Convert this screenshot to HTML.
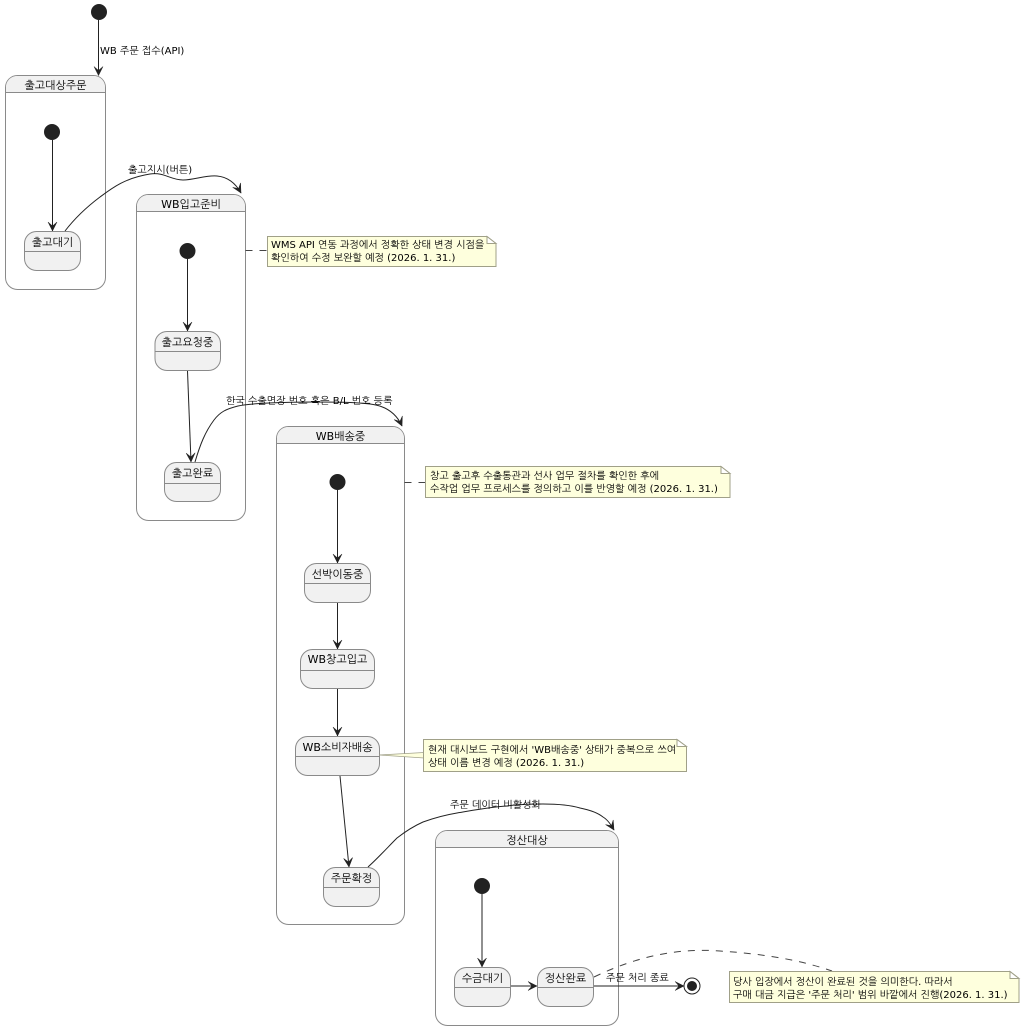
<!DOCTYPE html>
<html><head><meta charset="utf-8"><style>
html,body{margin:0;padding:0;background:#fff;width:1024px;height:1029px;overflow:hidden}
svg{display:block}
text{font-family:"DejaVu Sans","NanumGothic","Noto Sans CJK KR",sans-serif;font-size:11px;fill:#000}
.e{font-size:10px}
.t{text-anchor:middle}
.b{fill:#fff;stroke:#8a8a8a;stroke-width:1}
.h{fill:#f1f1f1;stroke:none}
.l{stroke:#8a8a8a;stroke-width:1;fill:none}
.s{fill:#f1f1f1;stroke:#8a8a8a;stroke-width:1}
.c{stroke:#222;stroke-width:1;fill:none}
.n{fill:#feffdd;stroke:#a0a088;stroke-width:1}
.f{fill:#fff;stroke:#a0a088;stroke-width:1}
.d{stroke:#444;stroke-width:1;fill:none;stroke-dasharray:7 7}
</style></head><body>
<svg width="1024" height="1029" viewBox="0 0 1024 1029" xmlns="http://www.w3.org/2000/svg">
<defs>
<marker id="ar" markerUnits="userSpaceOnUse" markerWidth="14" markerHeight="14" refX="10" refY="6" orient="auto"><path d="M1,1.5 L10,6 L1,10.5 L5,6 Z" fill="#222" stroke="#222" stroke-width="0.5"/></marker>
</defs>

<!-- composite states -->
<rect class="b" x="5.5" y="75.5" width="100" height="214" rx="12"/>
<path class="h" d="M6,92 V87 a11,11 0 0 1 11,-11 H94 a11,11 0 0 1 11,11 V92 Z"/>
<path class="l" d="M5.5,92.5 H105.5"/>
<text class="t" x="55.5" y="89">출고대상주문</text>

<rect class="b" x="136.5" y="194.5" width="109" height="326" rx="12"/>
<path class="h" d="M137,211 V206 a11,11 0 0 1 11,-11 H234 a11,11 0 0 1 11,11 V211 Z"/>
<path class="l" d="M136.5,211.5 H245.5"/>
<text class="t" x="191" y="208">WB입고준비</text>

<rect class="b" x="276.5" y="426.5" width="128" height="498" rx="12"/>
<path class="h" d="M277,443 V438 a11,11 0 0 1 11,-11 H393 a11,11 0 0 1 11,11 V443 Z"/>
<path class="l" d="M276.5,443.5 H404.5"/>
<text class="t" x="340.5" y="440">WB배송중</text>

<rect class="b" x="435.5" y="830.5" width="183" height="195" rx="12"/>
<path class="h" d="M436,847 V842 a11,11 0 0 1 11,-11 H607 a11,11 0 0 1 11,11 V847 Z"/>
<path class="l" d="M435.5,847.5 H618.5"/>
<text class="t" x="527" y="844">정산대상</text>

<!-- simple states -->
<g id="states">
<rect class="s" x="24.5" y="231.5" width="56" height="39" rx="12"/><path class="l" d="M24.5,251.5 H80.5"/>
<text class="t" x="52.5" y="246">출고대기</text>
<rect class="s" x="155" y="331.5" width="65.5" height="39" rx="12"/><path class="l" d="M155,351.5 H220.5"/>
<text class="t" x="187.5" y="346">출고요청중</text>
<rect class="s" x="164.5" y="462.5" width="56" height="39" rx="12"/><path class="l" d="M164.5,483.5 H220.5"/>
<text class="t" x="192.5" y="477">출고완료</text>
<rect class="s" x="304.5" y="563.5" width="66" height="39" rx="12"/><path class="l" d="M304.5,583.5 H370.5"/>
<text class="t" x="337.5" y="578">선박이동중</text>
<rect class="s" x="300.5" y="649.5" width="74" height="39" rx="12"/><path class="l" d="M300.5,670.5 H374.5"/>
<text class="t" x="337.5" y="663">WB창고입고</text>
<rect class="s" x="295.5" y="736.5" width="84" height="39" rx="12"/><path class="l" d="M295.5,756.5 H379.5"/>
<text class="t" x="337.5" y="751">WB소비자배송</text>
<rect class="s" x="323.5" y="867.5" width="56" height="39" rx="12"/><path class="l" d="M323.5,887.5 H379.5"/>
<text class="t" x="351.5" y="882">주문확정</text>
<rect class="s" x="454.5" y="967.5" width="56" height="39" rx="12"/><path class="l" d="M454.5,987.5 H510.5"/>
<text class="t" x="482.5" y="982">수금대기</text>
<rect class="s" x="537.5" y="967.5" width="56" height="39" rx="12"/><path class="l" d="M537.5,987.5 H593.5"/>
<text class="t" x="565.5" y="982">정산완료</text>
</g>

<!-- start/end -->
<circle cx="99" cy="12" r="8" fill="#222"/>
<circle cx="52" cy="132" r="8" fill="#222"/>
<circle cx="187.5" cy="251" r="8" fill="#222"/>
<circle cx="337.5" cy="482" r="8" fill="#222"/>
<circle cx="482" cy="886" r="8" fill="#222"/>
<circle cx="692" cy="986" r="8" fill="#fff" stroke="#222" stroke-width="1"/>
<circle cx="692" cy="986" r="5" fill="#222"/>

<!-- connectors -->
<path class="c" marker-end="url(#ar)" d="M98.5,20 V75.5"/>
<path class="c" marker-end="url(#ar)" d="M52.5,140 V231"/>
<path class="c" marker-end="url(#ar)" d="M65,231 C75,218 88,206 100,197 C112,188 125,178 150,174 C165,172 170,180 183,180 C195,180 205,175 217,176 C228,177 236,184 241,193"/>
<path class="c" marker-end="url(#ar)" d="M187.5,259 V331"/>
<path class="c" marker-end="url(#ar)" d="M187.5,371 L191,462"/>
<path class="c" marker-end="url(#ar)" d="M195,462 C200,445 205,432 214,420 C220,412 226,409 238,406 C250,403 290,402 313,402 C335,402 352,402 370,404 C388,406 397,415 402,426"/>
<path class="c" marker-end="url(#ar)" d="M337.5,490 V563"/>
<path class="c" marker-end="url(#ar)" d="M337.5,603 V649"/>
<path class="c" marker-end="url(#ar)" d="M337.5,689 V736"/>
<path class="c" marker-end="url(#ar)" d="M340,776 L349,867"/>
<path class="c" marker-end="url(#ar)" d="M368,867 C378,858 388,847 397,838 C406,831 414,826 423,822 C434,818 445,815 457,813 C475,810 490,807 507,806 C520,804 532,804 543,804 C558,804 570,805 580,808 C590,810 598,813 603,817 C608,820 611,825 614,830"/>
<path class="c" marker-end="url(#ar)" d="M482,894 V967"/>
<path class="c" marker-end="url(#ar)" d="M511,986 H537"/>
<path class="c" marker-end="url(#ar)" d="M594,986 H684"/>

<!-- edge labels -->
<text class="e" x="100" y="54">WB 주문 접수(API)</text>
<text class="e" x="128" y="173">출고지시(버튼)</text>
<text class="e" x="226" y="404">한국 수출면장 번호 혹은 B/L 번호 등록</text>
<text class="e" x="450" y="808">주문 데이터 비활성화</text>
<text class="e" x="606" y="981">주문 처리 종료</text>

<!-- note links -->
<path class="d" d="M245.5,250.5 H267"/>
<path class="d" d="M404.5,482.5 H425"/>
<path class="d" d="M594,977 C640,955 680,948 720,951 C765,954 800,960 832,971"/>
<path d="M379,755 L424,752.5 V758 Z" fill="#feffdd" stroke="#a0a088" stroke-width="0.8"/>

<!-- notes -->
<path class="n" d="M267.5,236.5 H487 L496,243.5 V266.5 H267.5 Z"/><path class="f" d="M487,236.5 V243.5 H496 Z"/>
<text class="e" x="271" y="248">WMS API 연동 과정에서 정확한 상태 변경 시점을</text>
<text class="e" x="271" y="261">확인하여 수정 보완할 예정 (2026. 1. 31.)</text>

<path class="n" d="M425.5,466.5 H721 L730,473.5 V497.5 H425.5 Z"/><path class="f" d="M721,466.5 V473.5 H730 Z"/>
<text class="e" x="430" y="479">창고 출고후 수출통관과 선사 업무 절차를 확인한 후에</text>
<text class="e" x="430" y="492">수작업 업무 프로세스를 정의하고 이를 반영할 예정 (2026. 1. 31.)</text>

<path class="n" d="M423.5,739.5 H677 L686.5,746.5 V771.5 H423.5 Z"/><path class="f" d="M677,739.5 V746.5 H686.5 Z"/>
<text class="e" x="428" y="753">현재 대시보드 구현에서 'WB배송중' 상태가 중복으로 쓰여</text>
<text class="e" x="428" y="766">상태 이름 변경 예정 (2026. 1. 31.)</text>

<path class="n" d="M729.5,971.5 H1010 L1019,978.5 V1002.5 H729.5 Z"/><path class="f" d="M1010,971.5 V978.5 H1019 Z"/>
<text class="e" x="733" y="985">당사 입장에서 정산이 완료된 것을 의미한다. 따라서</text>
<text class="e" x="733" y="998">구매 대금 지급은 '주문 처리' 범위 바깥에서 진행(2026. 1. 31.)</text>
</svg>
</body></html>
